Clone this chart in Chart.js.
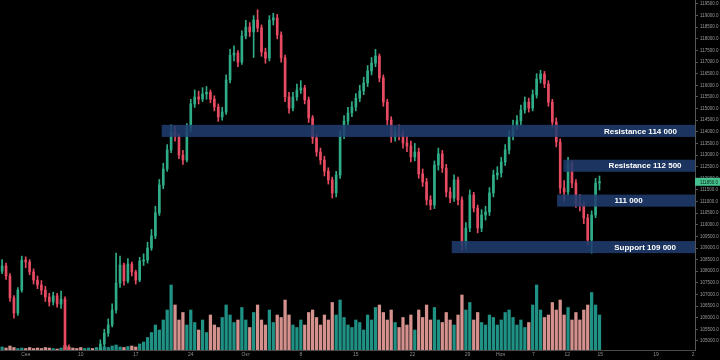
<!DOCTYPE html>
<html>
<head>
<meta charset="utf-8">
<script src="https://cdn.jsdelivr.net/npm/chart.js@4.4.1/dist/chart.umd.min.js"></script>
<style>
  html, body { margin: 0; padding: 0; background: #000; }
  #wrap { width: 720px; height: 360px; }
</style>
</head>
<body>
<div id="wrap"><canvas id="chart" width="720" height="360"></canvas></div>
<script>
// 12h candles, day 0 = Sep 1
var firstDay = -1;
var stepDays = 0.5;
var firstOpen = 108000;

var closes = [
  108230,107800,106850,106200,107190,108480,108400,107970,107620,107410,
  107190,106890,106680,106940,106590,106800,104300,104250,104100,104000,
  103950,104000,104100,104050,104250,104870,105340,105690,106330,107490,
  108270,107580,108310,107970,107620,108440,108480,109000,109520,110510,
  111710,112400,113220,113990,113820,113000,112790,114160,115200,115500,
  115410,115630,115700,115410,115070,114640,114850,116230,117300,117390,
  117000,118120,118510,118300,118810,118470,117430,117170,118810,118900,
  118170,117180,115500,115020,115500,115800,115890,115370,114600,113730,
  113130,112790,112310,111930,111370,112140,113860,114460,114810,115070,
  115450,115760,116100,116620,116960,117260,116320,115280,114510,113780,
  113950,113860,113520,113390,112920,113130,112190,111840,111070,110850,
  112570,113050,112440,111410,111150,111930,111070,109130,109860,111280,
  110720,109860,110420,110550,111370,112140,112230,112700,113220,113820,
  114250,114470,114940,115280,115020,115590,116270,116490,116060,115280,
  114420,113560,111580,111410,112660,111800,110940,110850,110290,109340,
  110420,111800,111850
];

var highs = [
  108500,108350,107900,106950,107300,108650,108620,108500,108100,107800,
  107600,107350,107050,107100,107050,107150,106900,104830,104400,104300,
  104250,104300,104350,104300,104500,105050,105500,105950,106600,108780,
  108650,108350,108550,108400,108050,108600,108750,109250,109800,110800,
  111950,112650,113450,114300,114250,113900,113200,114350,115400,115800,
  115750,115900,115950,115800,115550,115200,115050,116450,117550,117700,
  117500,118350,118800,118700,119000,119250,118600,117600,119000,119100,
  119050,118300,117300,115700,115700,116050,116200,116000,115500,114700,
  113900,113300,112950,112450,112050,112300,114050,114700,115050,115300,
  115650,116000,116350,116850,117200,117550,117350,116450,115400,114650,
  114200,114300,114050,113800,113600,113500,113300,112400,112000,111250,
  112750,113300,113200,112600,111600,112150,112050,111200,110100,111500,
  111400,110850,110650,110800,111600,112350,112500,112900,113450,114050,
  114500,114700,115150,115500,115450,115800,116500,116650,116600,116200,
  115400,114600,113700,111900,112900,112750,111950,111300,111000,110450,
  110600,112000,112100
];

var lows = [
  107900,107650,106700,105980,106100,107100,108150,107850,107450,107250,
  107000,106700,106500,106550,106450,106400,104100,103900,103800,103700,
  103700,103750,103850,103800,103900,104200,104750,105200,105600,106200,
  107300,107400,107500,107800,107450,107550,108250,108350,108900,109400,
  110400,111550,112300,113100,113600,112850,112600,112700,114000,115050,
  115200,115300,115400,115250,114900,114450,114500,114750,116100,117050,
  116800,116900,118000,118100,117200,118300,117250,116950,117050,118600,
  118000,117000,115300,114800,114900,115350,115650,115200,114400,113500,
  112950,112600,112100,111750,111150,111200,112000,113700,114300,114650,
  114900,115300,115600,115950,116450,116800,116150,115100,114300,113550,
  113600,113650,113300,113150,112700,112750,112000,111650,110850,110650,
  110700,112350,112250,111200,110950,111000,110850,108900,108950,109700,
  110550,109650,109700,110200,110400,111200,111950,112050,112550,113050,
  113650,114100,114300,114800,114850,114900,115450,116100,115900,115100,
  114200,113350,111350,111000,111300,111600,110750,110600,110050,109150,
  108780,110300,111500
];

// volume, thousand BTC
var volumes = [
  0.6,0.4,0.8,0.5,0.3,0.4,0.3,0.5,0.3,0.4,
  0.3,0.5,0.4,0.3,0.2,0.4,0.9,0.6,0.4,0.3,
  0.5,0.3,0.4,0.3,0.5,0.4,0.6,0.5,0.8,1.0,
  0.6,0.5,0.7,0.8,0.6,1.2,1.6,2.5,3.5,5,
  4,6,8,13,9,6,7.5,5,8,5.5,
  4,6,3.5,7,5,4.5,6.5,9,7,5.5,
  6,8.5,6,4.5,7.5,9,6,5,8,5.5,
  7,6.5,10,7,5,4.5,6,5,7.5,8,
  6.5,5,7,6,9.5,7,10,6.5,5,4.5,
  6,5.5,4,7,6,8.5,9,7.5,6,8,
  5.5,4.5,6.5,5,7,4,8,6.5,9,6,
  8.5,6,5.5,7.5,6,5,7,11,8,9.5,
  6,7.5,5.5,5,7,6.5,5,6,7.5,8,
  6.5,5,6,4.5,5.5,9,13,8,6.5,7,
  9.5,8,10,7,8.5,6,7.5,6,8,9,
  11.5,9,7
];

var tickDays = [2, 9, 16, 23, 30, 37, 44, 51.2, 58.2, 62.4, 66.6, 70.9, 75.1, 82.2, 86.9];
var tickLabels = ['Сен', '10', '17', '24', 'Окт', '8', '15', '22', '29', 'Ноя', '7', '12', '15', '19', '2'];

var bandLevels = [114000, 112500, 111000, 109000];
var bandLabels = ['Resistance 114 000', 'Resistance 112 500', '111 000', 'Support 109 000'];
var bandStartDays = [19.3, 70.4, 69.6, 56.2];
var bandTextDays = [80.2, 80.8, 78.7, 80.8];

var yTicks = [];
for (var t = 105000; t <= 119500; t += 500) yTicks.push(t);

var xMin = -1.27, xMax = 87.15;
var yMin = 104612, yMax = 119672;

var upColor = '#30ad88';
var downColor = '#e64b62';
var volUp = 'rgba(38,170,156,0.85)';
var volDown = 'rgba(250,170,166,0.85)';

var days = closes.map(function (c, i) { return firstDay + i * stepDays; });
var opens = closes.map(function (c, i) { return i === 0 ? firstOpen : closes[i - 1]; });
var isUp = closes.map(function (c, i) { return c >= opens[i]; });
var candleColors = isUp.map(function (u) { return u ? upColor : downColor; });

var bandPlugin = {
  id: 'bands',
  afterDatasetsDraw: function (chart) {
    var ctx = chart.ctx, area = chart.chartArea;
    var x = chart.scales.x, y = chart.scales.y;
    ctx.save();
    ctx.beginPath();
    ctx.rect(area.left, area.top, area.right - area.left, area.bottom - area.top);
    ctx.clip();
    for (var k = 0; k < bandLevels.length; k++) {
      var x0 = x.getPixelForValue(bandStartDays[k]);
      var yTop = y.getPixelForValue(bandLevels[k] + 300);
      var yBot = y.getPixelForValue(bandLevels[k] - 220);
      ctx.fillStyle = 'rgba(32,60,112,0.86)';
      ctx.fillRect(x0, yTop, area.right - x0, yBot - yTop);
      ctx.fillStyle = '#ffffff';
      ctx.font = 'bold 8px "Liberation Sans", Arial, sans-serif';
      ctx.textAlign = 'center';
      ctx.textBaseline = 'middle';
      ctx.fillText(bandLabels[k], x.getPixelForValue(bandTextDays[k]), (yTop + yBot) / 2 + 0.5);
    }
    ctx.restore();
  },
  afterDraw: function (chart) {
    var ctx = chart.ctx, area = chart.chartArea, y = chart.scales.y;
    var last = closes[closes.length - 1];
    var py = y.getPixelForValue(last);
    ctx.save();
    ctx.fillStyle = '#45c08e';
    ctx.fillRect(area.right, py - 4, chart.width - area.right, 8);
    ctx.fillStyle = '#0b2a1c';
    ctx.font = '4.5px "Liberation Sans", Arial, sans-serif';
    ctx.textAlign = 'left';
    ctx.textBaseline = 'middle';
    ctx.fillText(last.toFixed(1), area.right + 5, py + 0.5);
    ctx.restore();
  }
};

Chart.defaults.font.family = '"Liberation Sans", Arial, sans-serif';

var ctx = document.getElementById('chart');
var chart = new Chart(ctx, {
  type: 'bar',
  data: {
    datasets: [{
      label: 'Volume',
      data: days.map(function (d, i) { return { x: d, y: volumes[i] }; }),
      yAxisID: 'yv',
      backgroundColor: isUp.map(function (u) { return u ? volUp : volDown; }),
      barThickness: 2.6,
      grouped: false,
      order: 3
    }, {
      label: 'Wicks',
      data: days.map(function (d, i) { return { x: d, y: [lows[i], highs[i]] }; }),
      yAxisID: 'y',
      backgroundColor: candleColors,
      barThickness: 1,
      grouped: false,
      order: 2
    }, {
      label: 'Bodies',
      data: days.map(function (d, i) { return { x: d, y: [opens[i], closes[i]] }; }),
      yAxisID: 'y',
      backgroundColor: candleColors,
      barThickness: 2,
      minBarLength: 1,
      grouped: false,
      order: 1
    }]
  },
  options: {
    responsive: false,
    devicePixelRatio: 1,
    animation: false,
    layout: { padding: 0 },
    plugins: { legend: { display: false }, tooltip: { enabled: false } },
    scales: {
      x: {
        type: 'linear',
        min: xMin,
        max: xMax,
        offset: false,
        grid: { display: false, drawTicks: false },
        border: { display: true, color: '#4a4a4a' },
        ticks: {
          color: '#8c8c8c',
          font: { size: 5 },
          padding: 2,
          maxRotation: 0,
          autoSkip: false,
          callback: function (v, idx) { return tickLabels[idx]; }
        },
        afterBuildTicks: function (s) { s.ticks = tickDays.map(function (v) { return { value: v }; }); },
        afterFit: function (s) { s.height = 10; s.paddingLeft = 0; s.paddingRight = 0; }
      },
      y: {
        type: 'linear',
        position: 'right',
        min: yMin,
        max: yMax,
        grid: { display: true, drawOnChartArea: false, tickLength: 3, color: '#555' },
        border: { display: true, color: '#555' },
        ticks: {
          color: '#9a9a9a',
          font: { size: 4.5 },
          padding: 2,
          callback: function (v) { return Number(v).toFixed(1); }
        },
        afterBuildTicks: function (s) { s.ticks = yTicks.map(function (v) { return { value: v }; }); },
        afterFit: function (s) { s.width = 25; s.paddingTop = 0; s.paddingBottom = 0; }
      },
      yv: {
        display: false,
        min: 0,
        max: 70
      }
    }
  },
  plugins: [bandPlugin]
});
</script>
</body>
</html>
